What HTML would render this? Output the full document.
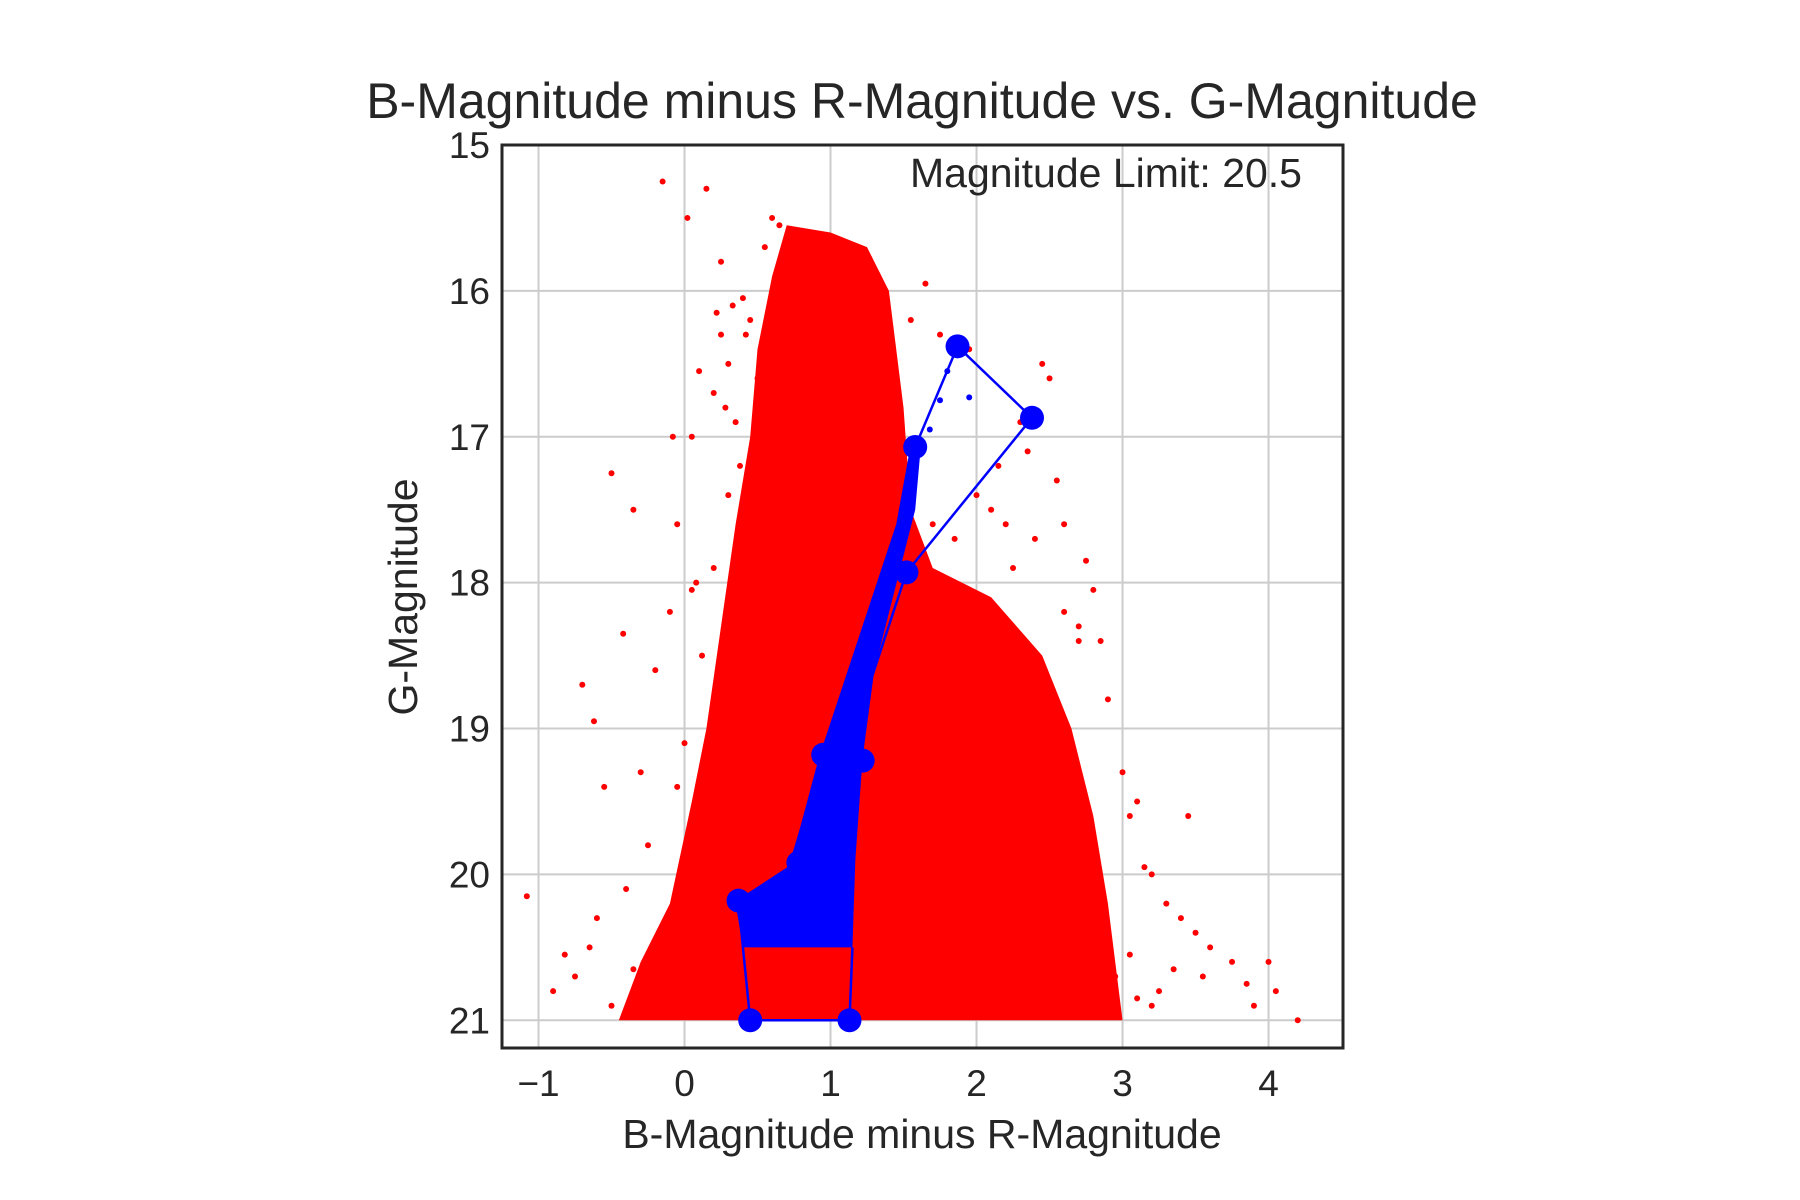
<!DOCTYPE html>
<html><head><meta charset="utf-8"><style>
html,body{margin:0;padding:0;background:#fff;}
svg{display:block;font-family:"Liberation Sans",Arial,sans-serif;}
</style></head><body>
<svg id="chart" width="1800" height="1200" viewBox="0 0 1800 1200" xmlns="http://www.w3.org/2000/svg">
<rect width="1800" height="1200" fill="#fff"/>
<text x="922" y="118" text-anchor="middle" font-size="50" fill="#262626">B-Magnitude minus R-Magnitude vs. G-Magnitude</text>
<g id="grid"></g>
<g id="plot"></g>
<rect x="502" y="145" width="841" height="903" fill="none" stroke="#262626" stroke-width="3"/>
<g id="ticks"></g>
<text x="1302" y="187" text-anchor="end" font-size="41" fill="#262626">Magnitude Limit: 20.5</text>
<text x="922" y="1148" text-anchor="middle" font-size="41" fill="#262626">B-Magnitude minus R-Magnitude</text>
<text x="0" y="0" transform="translate(417,597) rotate(-90)" text-anchor="middle" font-size="41" fill="#262626">G-Magnitude</text>
</svg>
<script>
const xTicks=[-1,0,1,2,3,4];
const xTickLabels=["\u22121","0","1","2","3","4"];
const yTicks=[15,16,17,18,19,20,21];
const yTickLabels=["15","16","17","18","19","20","21"];
// dense red region outline (color, magnitude)
const redColors=[0.7,1.0,1.25,1.4,1.5,1.55,1.7,2.1,2.45,2.65,2.8,2.9,3.0,-0.45,-0.3,-0.1,0.05,0.15,0.25,0.35,0.45,0.5,0.6];
const redMags=[15.55,15.6,15.7,16.0,16.8,17.5,17.9,18.1,18.5,19.0,19.6,20.2,21.0,21.0,20.6,20.2,19.5,19.0,18.3,17.6,17.0,16.4,15.9];
// sparse red outliers
const outColors=[-0.15,0.15,0.02,0.25,0.22,0.3,0.28,0.33,0.42,-0.08,0.05,-0.5,-0.35,-0.42,-0.2,-0.7,-0.62,-0.55,-0.3,-0.9,-0.82,-0.75,-1.08,0.05,-0.1,1.95,1.65,1.75,2.45,2.5,2.6,2.1,2.25,2.75,2.8,2.85,3.05,3.15,3.3,3.45,3.5,3.6,3.75,3.85,3.9,4.0,4.05,4.2,3.35,3.2,3.1,0.55,0.65,0.4,0.1,-0.05,2.55,2.3,0.6,0.2,
0.45,0.5,0.38,0.3,0.2,0.12,0.08,0.0,-0.05,-0.25,-0.4,-0.6,-0.65,1.6,1.7,1.85,2.0,2.2,2.4,2.7,2.9,3.0,3.1,3.2,2.95,3.05,3.25,-0.2,-0.35,-0.5,0.25,0.35,1.45,1.55,2.15,2.35,2.6,2.7,3.4,3.55];
const outMags=[15.25,15.3,15.5,15.8,16.15,16.5,16.8,16.1,16.3,17.0,17.0,17.25,17.5,18.35,18.6,18.7,18.95,19.4,19.3,20.8,20.55,20.7,20.15,18.05,18.2,16.4,15.95,16.3,16.5,16.6,17.6,17.5,17.9,17.85,18.05,18.4,19.6,19.95,20.2,19.6,20.4,20.5,20.6,20.75,20.9,20.6,20.8,21.0,20.65,20.9,20.85,15.7,15.55,16.05,16.55,17.6,17.3,16.9,15.5,16.7,
16.2,16.6,17.2,17.4,17.9,18.5,18.0,19.1,19.4,19.8,20.1,20.3,20.5,17.8,17.6,17.7,17.4,17.6,17.7,18.3,18.8,19.3,19.5,20.0,20.7,20.55,20.8,20.85,20.65,20.9,16.3,16.9,16.8,16.2,17.2,17.1,18.2,18.4,20.3,20.7];
// blue dense band outline
const blueColors=[1.55,1.62,1.58,1.3,1.22,1.17,1.15,0.4,0.35,0.72,0.92,1.45];
const blueMags=[17.05,17.05,17.5,18.6,19.2,19.9,20.5,20.5,20.2,19.95,19.2,17.6];
// blue connecting path and large markers
const pathColors=[1.58,1.87,2.38,1.52,1.2,0.95,0.72,0.37,0.4,0.45,1.13,1.15];
const pathMags=[17.07,16.38,16.87,17.93,18.9,19.18,19.95,20.18,20.5,21.0,21.0,20.5];
const markColors=[1.87,2.38,1.58,1.52,0.95,1.22,0.37,0.45,1.13,0.78];
const markMags=[16.38,16.87,17.07,17.93,19.18,19.22,20.18,21.0,21.0,19.92];
const smallBlueColors=[1.75,1.8,1.95,1.68,1.55];
const smallBlueMags=[16.75,16.55,16.73,16.95,17.4];

const X0=502,X1=1343,Y0=145,Y1=1048,XMIN=-1.25,XMAX=4.51,YMIN=15,YMAX=21.19;
const sx=v=>X0+(v-XMIN)/(XMAX-XMIN)*(X1-X0);
const sy=v=>Y0+(v-YMIN)/(YMAX-YMIN)*(Y1-Y0);
const NS="http://www.w3.org/2000/svg";
function mk(tag,attrs,parent){const e=document.createElementNS(NS,tag);for(const k in attrs)e.setAttribute(k,attrs[k]);parent.appendChild(e);return e;}
const grid=document.getElementById('grid'),plot=document.getElementById('plot'),ticks=document.getElementById('ticks');
xTicks.forEach((t,i)=>{
 const l=mk('line',{x1:sx(t),x2:sx(t),y1:Y0,y2:Y1,stroke:'#cccccc','stroke-width':2},grid);
 
 
 const tx=mk('text',{x:sx(t),y:Y1+48,'text-anchor':'middle','font-size':37,fill:'#262626'},ticks);
 tx.textContent=xTickLabels[i];
 
 
});
yTicks.forEach((t,i)=>{
 const l=mk('line',{x1:X0,x2:X1,y1:sy(t),y2:sy(t),stroke:'#cccccc','stroke-width':2},grid);
 
 
 const tx=mk('text',{x:X0-12,y:sy(t)+13,'text-anchor':'end','font-size':37,fill:'#262626'},ticks);
 tx.textContent=yTickLabels[i];
 
 
});
const rp=mk('polygon',{points:redColors.map((c,i)=>sx(c)+','+sy(redMags[i])).join(' '),fill:'#ff0000'},plot);


outColors.forEach((c,i)=>{
 const p=mk('circle',{cx:sx(c),cy:sy(outMags[i]),r:3,fill:'#ff0000'},plot);
 
 
});
const bp=mk('polygon',{points:blueColors.map((c,i)=>sx(c)+','+sy(blueMags[i])).join(' '),fill:'#0000ff'},plot);


const pl=mk('polyline',{points:pathColors.map((c,i)=>sx(c)+','+sy(pathMags[i])).join(' '),fill:'none',stroke:'#0000ff','stroke-width':2.5},plot);


smallBlueColors.forEach((c,i)=>{
 const p=mk('circle',{cx:sx(c),cy:sy(smallBlueMags[i]),r:3,fill:'#0000ff'},plot);
 
 
});
markColors.forEach((c,i)=>{
 const p=mk('circle',{cx:sx(c),cy:sy(markMags[i]),r:12,fill:'#0000ff'},plot);
 
 
});
</script>
</body></html>
